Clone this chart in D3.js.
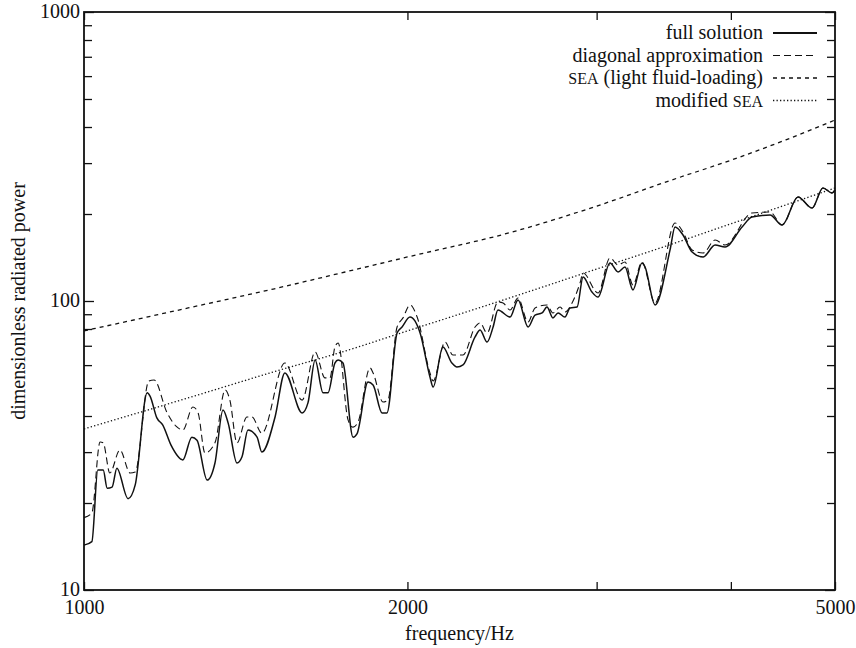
<!DOCTYPE html>
<html>
<head>
<meta charset="utf-8">
<script src="https://cdn.jsdelivr.net/npm/d3@7"></script>
<style>
  body { margin: 0; background: #fff; }
  svg { display: block; }
  text { font-family: "Liberation Serif", "DejaVu Serif", serif; fill: #111; }
</style>
</head>
<body>
<div class="display"></div>
<script>
// full solution
const freqFull = [1000, 1017, 1030, 1042, 1051, 1062, 1073, 1099, 1116, 1145, 1152, 1169, 1184, 1205, 1236,
  1260, 1274, 1302, 1324, 1347, 1362, 1388, 1403, 1421, 1449, 1464, 1506, 1538, 1596, 1616, 1641, 1669,
  1687, 1712, 1724, 1742, 1780, 1795, 1838, 1858, 1894, 1914, 1956, 1977, 2011, 2055, 2099, 2113, 2158,
  2200, 2224, 2253, 2312, 2337, 2372, 2403, 2428, 2492, 2535, 2590, 2629, 2669, 2697, 2732, 2762, 2803,
  2834, 2877, 2914, 2970, 3009, 3087, 3141, 3188, 3243, 3306, 3328, 3400, 3511, 3549, 3610, 3681, 3769,
  3867, 3950, 4097, 4185, 4350, 4464, 4619, 4760, 4873, 4968, 5000];
const powerFull = [14.3, 14.7, 26.0, 26.0, 22.5, 22.7, 26.4, 20.7, 23.1, 48.1, 46.9, 39.4, 37.2, 31.7, 28.2,
  33.8, 33.0, 24.0, 27.5, 42.0, 37.8, 27.5, 28.9, 35.8, 33.8, 30.0, 39.7, 56.4, 41.0, 44.4, 62.5, 48.1,
  48.1, 61.0, 62.5, 61.0, 33.8, 34.7, 52.4, 51.2, 41.0, 41.0, 77.5, 81.3, 88.0, 77.5, 54.6, 50.4, 69.3,
  61.0, 59.1, 60.1, 75.1, 79.4, 72.1, 81.3, 93.1, 88.0, 100.8, 81.3, 89.4, 90.9, 95.3, 87.4, 90.9, 88.0,
  94.6, 95.3, 121.1, 107.4, 103.2, 135.4, 126.0, 131.1, 109.2, 135.4, 131.1, 96.9, 150.2, 180.3, 169.2, 147.8, 142.0,
  156.3, 153.8, 180.3, 195.3, 198.4, 183.2, 229.1, 209.8, 246.0, 236.5, 242.2];

// diagonal approximation
const freqDiag = [1000, 1017, 1035, 1042, 1057, 1080, 1104, 1116, 1149, 1162, 1195, 1218, 1236, 1263, 1277,
  1296, 1324, 1353, 1367, 1388, 1418, 1433, 1464, 1538, 1596, 1641, 1676, 1694, 1712, 1724, 1761, 1780,
  1799, 1846, 1858, 1898, 1918, 1956, 1981, 2011, 2042, 2099, 2113, 2168, 2205, 2253, 2312, 2337, 2372,
  2428, 2455, 2492, 2535, 2590, 2629, 2697, 2732, 2774, 2803, 2846, 2895, 2914, 3009, 3087, 3141, 3188,
  3243, 3306, 3400, 3549, 3610, 3681, 3769, 3867, 3950, 4185, 4350, 4464, 4619, 4760, 4873, 4968, 5000];
const powerDiag = [17.8, 18.5, 32.5, 32.3, 25.4, 30.5, 25.4, 25.6, 52.9, 53.3, 41.0, 36.9, 35.8, 43.0, 41.0,
  29.8, 32.3, 49.2, 45.4, 32.3, 39.7, 39.7, 34.9, 61.0, 45.4, 66.6, 54.2, 54.2, 69.3, 71.6, 38.8, 36.6,
  38.1, 58.7, 56.4, 44.7, 45.4, 81.3, 87.4, 96.9, 88.0, 56.4, 52.9, 72.1, 65.0, 65.0, 81.3, 84.0, 77.5,
  99.2, 98.4, 93.1, 102.4, 84.6, 94.6, 96.9, 90.9, 95.3, 91.6, 98.4, 115.4, 125.0, 106.6, 140.9, 133.2, 136.4,
  113.6, 136.4, 98.4, 186.2, 173.3, 150.2, 146.6, 162.6, 156.3, 201.6, 203.2, 183.2, 229.1, 209.8, 246.0, 236.5, 242.2];

// SEA curves
const freqSea = [1000, 1250, 1500, 1750, 2000, 2500, 3000, 3500, 4000, 4500, 5000];
const powerSea = [78.8, 94.6, 110, 126, 142, 173, 213, 260, 307, 361, 423];
const powerModSea = [36.1, 46.2, 56.8, 67.1, 78.8, 103, 129, 156, 185, 215, 246];

const xTicks = [1000, 2000, 3000, 4000, 5000];
const xLabels = [1000, 2000, 5000];
const yMajor = [10, 100, 1000];
const yMinor = [20, 30, 40, 50, 60, 70, 80, 90, 200, 300, 400, 500, 600, 700, 800, 900];

const width = 856;
const height = 648;
const plotLeft = 84, plotRight = 835, plotTop = 12, plotBottom = 590;
const ink = '#111';

const svg = d3.select('.display')
  .append('svg')
  .attr('width', width)
  .attr('height', height);

const xScale = d3.scaleLog().domain([1000, 5000]).range([plotLeft, plotRight]);
const yScale = d3.scaleLog().domain([10, 1000]).range([plotBottom, plotTop]);

// axes (ticks pointing inward)
function styleAxis(g) {
  g.select('.domain').remove();
  g.selectAll('line').attr('stroke', ink).attr('stroke-width', 1.3);
  g.selectAll('text').attr('font-size', 20).attr('fill', ink)
    .style('font-family', '"Liberation Serif", serif');
}

svg.append('g')
  .attr('transform', `translate(0, ${plotBottom})`)
  .call(d3.axisBottom(xScale).tickValues(xTicks).tickSize(-8).tickSizeOuter(0).tickPadding(10)
    .tickFormat(d => xLabels.includes(d) ? d : ''))
  .call(styleAxis);

svg.append('g')
  .attr('transform', `translate(0, ${plotTop})`)
  .call(d3.axisTop(xScale).tickValues(xTicks).tickSize(-8).tickSizeOuter(0).tickFormat(''))
  .call(styleAxis);

svg.append('g')
  .attr('transform', `translate(${plotLeft}, 0)`)
  .call(d3.axisLeft(yScale).tickValues(yMajor).tickSize(-10).tickSizeOuter(0).tickPadding(4)
    .tickFormat(d3.format('d')))
  .call(styleAxis)
  .selectAll('text').attr('dy', '0.28em');

svg.append('g')
  .attr('transform', `translate(${plotLeft}, 0)`)
  .call(d3.axisLeft(yScale).tickValues(yMinor).tickSize(-8).tickSizeOuter(0).tickFormat(''))
  .call(styleAxis);

svg.append('g')
  .attr('transform', `translate(${plotRight}, 0)`)
  .call(d3.axisRight(yScale).tickValues(yMajor).tickSize(-10).tickSizeOuter(0).tickFormat(''))
  .call(styleAxis);

svg.append('g')
  .attr('transform', `translate(${plotRight}, 0)`)
  .call(d3.axisRight(yScale).tickValues(yMinor).tickSize(-8).tickSizeOuter(0).tickFormat(''))
  .call(styleAxis);

svg.append('rect')
  .attr('x', plotLeft)
  .attr('y', plotTop)
  .attr('width', plotRight - plotLeft)
  .attr('height', plotBottom - plotTop)
  .attr('fill', 'none')
  .attr('stroke', ink)
  .attr('stroke-width', 1.8);

// axis titles
svg.append('text')
  .attr('x', (plotLeft + plotRight) / 2)
  .attr('y', 640)
  .attr('text-anchor', 'middle')
  .attr('font-size', 20)
  .text('frequency/Hz');

svg.append('text')
  .attr('transform', `translate(25, ${(plotTop + plotBottom) / 2}) rotate(-90)`)
  .attr('text-anchor', 'middle')
  .attr('font-size', 20)
  .text('dimensionless radiated power');

// curves
const series = [
  { f: freqFull, v: powerFull, dash: null, w: 1.5 },
  { f: freqDiag, v: powerDiag, dash: '7,4', w: 1.1 },
  { f: freqSea, v: powerSea, dash: '4,4', w: 1.3 },
  { f: freqSea, v: powerModSea, dash: '1.3,2.2', w: 1.3 }
];

series.forEach(s => {
  const line = d3.line()
    .x(d => xScale(d[0]))
    .y(d => yScale(d[1]))
    .curve(d3.curveMonotoneX);
  svg.append('path')
    .datum(s.f.map((f, i) => [f, s.v[i]]))
    .attr('d', line)
    .attr('fill', 'none')
    .attr('stroke', ink)
    .attr('stroke-width', s.w)
    .attr('stroke-linejoin', 'round')
    .attr('stroke-dasharray', s.dash);
});

// legend
const legendRows = [
  { parts: [['full solution', false]], dash: null, w: 2 },
  { parts: [['diagonal approximation', false]], dash: '7,4', w: 1.1 },
  { parts: [['SEA', true], [' (light fluid-loading)', false]], dash: '4,4', w: 1.3 },
  { parts: [['modified ', false], ['SEA', true]], dash: '1.3,2.2', w: 1.3 }
];

legendRows.forEach((row, i) => {
  const yy = 33 + i * 22.5;
  const t = svg.append('text')
    .attr('x', 763)
    .attr('y', yy + 6)
    .attr('text-anchor', 'end')
    .attr('font-size', 20);
  row.parts.forEach(([str, small]) => {
    t.append('tspan')
      .attr('font-size', small ? 16 : 20)
      .text(str);
  });
  svg.append('line')
    .attr('x1', 773)
    .attr('x2', 817)
    .attr('y1', yy)
    .attr('y2', yy)
    .attr('stroke', ink)
    .attr('stroke-width', row.w)
    .attr('stroke-dasharray', row.dash);
});
</script>
</body>
</html>
